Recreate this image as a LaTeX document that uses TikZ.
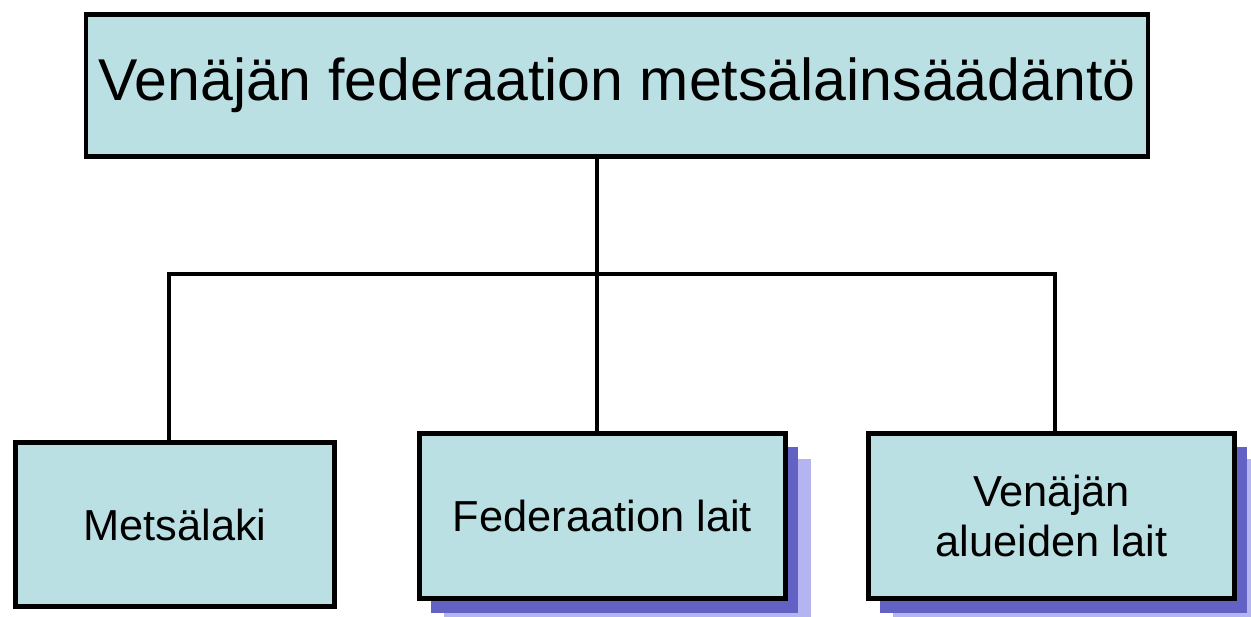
\documentclass[tikz,border=0pt]{standalone}
\usepackage{fontspec}
\setmainfont{Liberation Sans}
\usetikzlibrary{
positioning,
shadows
}
\definecolor{lawfill}{RGB}{187,224,227}
\definecolor{shadowdark}{RGB}{98,98,196}
\definecolor{shadowlight}{RGB}{180,180,240}
\tikzset{
law/.style={draw,line width=0.09cm,fill=lawfill,align=center,inner sep=0},
lawshadow/.style={drop shadow={shadow xshift=0.5cm,shadow yshift=-0.52cm,fill=shadowlight,opacity=1},
                  drop shadow={shadow xshift=0.24cm,shadow yshift=-0.28cm,fill=shadowdark,opacity=1}},
bigtext/.style={font=\fontsize{33.6}{40}\selectfont},
smalltext/.style={font=\fontsize{24.7}{28.5}\selectfont},
branch/.style={line width=0.08cm}
}

\begin{document}
\begin{tikzpicture}[x=0.02cm, y=-0.02cm]
		\useasboundingbox (0,0) rectangle (1251,617);
		\node[law,bigtext,minimum width=21.24cm,minimum height=2.85cm] (metsa) at (617,85.5) {Venäjän federaation metsälainsäädäntö};
		
		\node[law,smalltext,minimum width=6.39cm,minimum height=3.29cm] (laki) at (175,524.5) {Metsälaki};
		\node[law,lawshadow,smalltext,minimum width=7.33cm,minimum height=3.31cm] (fedlait) at (602.5,516) {Federaation lait};
		\node[law,lawshadow,smalltext,minimum width=7.33cm,minimum height=3.31cm] (aluelait) at (1051.5,516) {Venäjän\\alueiden lait};
		
		% branches.
		\coordinate (bus) at (597,274);
		\draw[branch] (bus |- metsa.south) -- (bus);
		\draw[branch] ([xshift=-0.12cm]laki.north) |- (bus) -| ([xshift=0.07cm]aluelait.north);
		\draw[branch] (bus) -- (bus |- fedlait.north);
	\end{tikzpicture}
\end{document}
